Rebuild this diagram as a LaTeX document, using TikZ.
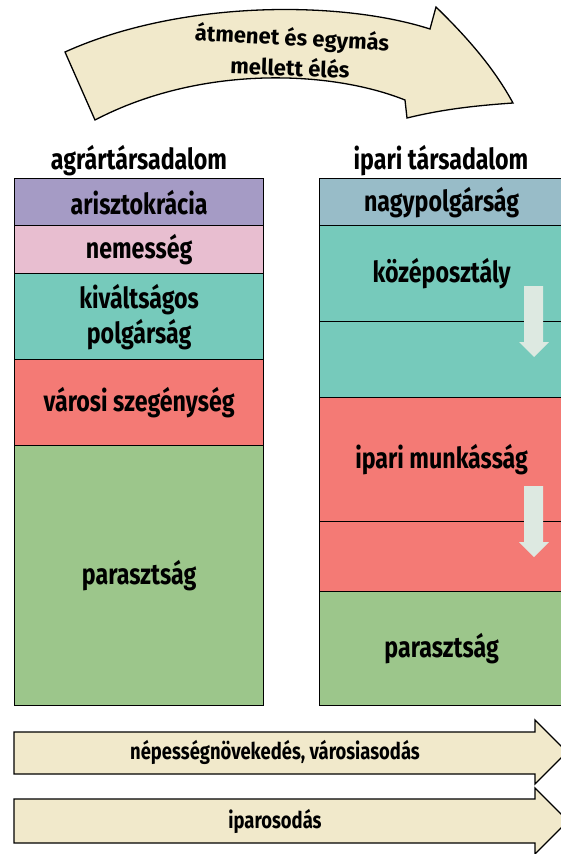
\documentclass[tikz,border=0pt]{standalone}
\usepackage{fontspec}
\setmainfont[FakeStretch=0.8]{Fira Sans}
\newfontfamily\arcFamily{Fira Sans}
\definecolor{arPurple}{HTML}{A59BC5}
\definecolor{arPink}{HTML}{E8BED0}
\definecolor{arTeal}{HTML}{76CABB}
\definecolor{arSalmon}{HTML}{F47A75}
\definecolor{arGreen}{HTML}{9CC68B}
\definecolor{arSteel}{HTML}{98BCC8}
\definecolor{arCream}{HTML}{F1E9CB}
\definecolor{arPale}{HTML}{DDE9E1}
\newcommand{\layerFont}{\fontsize{29}{35}\selectfont\bfseries}
\newcommand{\flowFont}{\fontsize{23}{27}\selectfont\bfseries}
\newcommand{\arcFont}{\arcFamily\fontsize{22}{26}\selectfont\bfseries}
\newcommand{\paleArrow}[2]{\fill[arPale] (#1-10,#2) -- (#1+9,#2) -- (#1+9,#2+56) -- (#1+15,#2+56) -- (#1,#2+71) -- (#1-15,#2+56) -- (#1-10,#2+56) -- cycle;}

\begin{document}
\begin{tikzpicture}[x=1pt,y=-1pt,
  layer/.style={draw=black, line width=1.3pt, anchor=north west, inner sep=0pt, align=center, font=\layerFont},
  leftcol/.style={layer, minimum width=249pt},
  rightcol/.style={layer, minimum width=244pt},
  title/.style={inner sep=0pt, font=\layerFont},
  flowbox/.style={draw=black, line width=1.3pt, fill=arCream, line join=miter},
  flowtext/.style={inner sep=0pt, font=\flowFont}]
\useasboundingbox (0,0) rectangle (561,854);
% curved arrow on top
\draw[flowbox] (65,52) .. controls (180,0) and (340,0) .. (430,29) -- (436,7)
  .. controls (470,40) and (495,70) .. (513,103)
  .. controls (470,106) and (440,110) .. (407,118) -- (405,100)
  .. controls (330,70) and (200,65) .. (95,120) -- cycle;
\node[flowtext, font=\arcFont, rotate=-3] (together1) at (292,39) {átmenet és egymás};
\node[flowtext, font=\arcFont, rotate=-2] (together2) at (290,67) {mellett élés};
% agrarian society
\node[title] (agrar) at (139,161) {agrártársadalom};
\node[leftcol, fill=arPurple, minimum height=47pt] (arisz) at (14,178) {arisztokrácia};
\node[leftcol, fill=arPink, minimum height=48pt] (nemes) at (14,225) {nemesség};
\node[leftcol, fill=arTeal, minimum height=86pt] (kivalt) at (14,273) {kiváltságos\\polgárság};
\node[leftcol, fill=arSalmon, minimum height=86pt] (varosi) at (14,359) {városi szegénység};
\node[leftcol, fill=arGreen, minimum height=260pt] (paraszt) at (14,445) {parasztság};
% industrial society
\node[title] (ipari) at (441,161) {ipari társadalom};
\node[rightcol, fill=arSteel, minimum height=47pt] (nagyp) at (319,178) {nagypolgárság};
\node[rightcol, fill=arTeal, minimum height=96pt] (kozep) at (319,225) {középosztály};
\node[rightcol, fill=arTeal, minimum height=76pt] (kozepAlso) at (319,321) {};
\node[rightcol, fill=arSalmon, minimum height=124pt] (munkas) at (319,397) {ipari munkásság};
\node[rightcol, fill=arSalmon, minimum height=70pt] (munkasAlso) at (319,521) {};
\node[rightcol, fill=arGreen, minimum height=114pt] (parasztIpari) at (319,591) {parasztság};
\paleArrow{534}{286}
\paleArrow{534}{486}
% processes
\draw[flowbox] (14,732) -- (535,732) -- (535,720) -- (567,752) -- (535,784) -- (535,774) -- (14,774) -- cycle;
\node[flowtext] (nepesseg) at (275,752) {népességnövekedés, városiasodás};
\draw[flowbox] (14,799) -- (535,799) -- (535,788) -- (568,821) -- (535,854) -- (535,843) -- (14,843) -- cycle;
\node[flowtext] (iparosodas) at (275,821) {iparosodás};
\end{tikzpicture}
\end{document}
